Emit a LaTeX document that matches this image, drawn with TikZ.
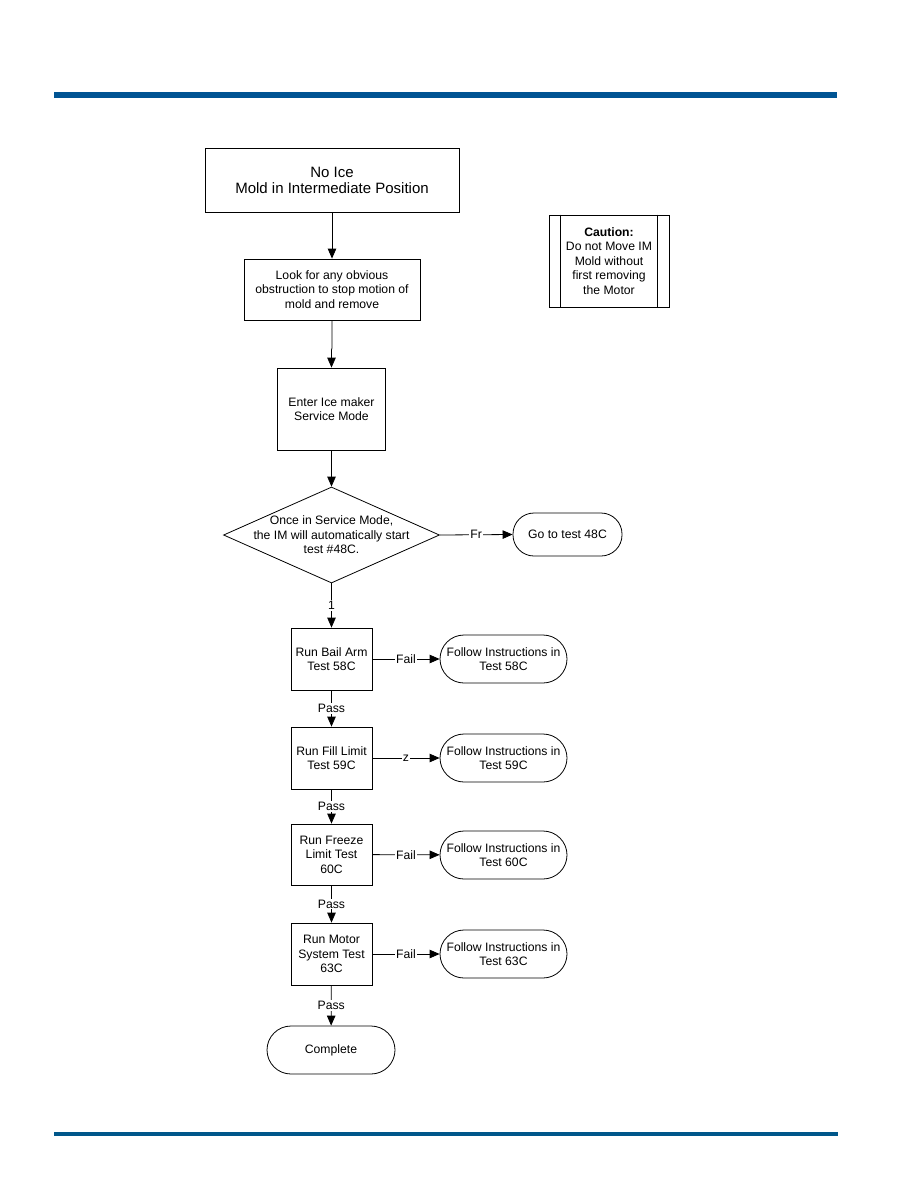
\documentclass[tikz,border=0pt]{standalone}
\usepackage{fontspec}
\setmainfont{Liberation Sans}
\usetikzlibrary{shapes.geometric,arrows.meta}
\definecolor{barblue}{RGB}{0,84,147}
\definecolor{barblue2}{RGB}{0,87,138}
\tikzset{
  box/.style={draw, line width=0.8pt, inner sep=0pt, align=center, font=\fontsize{12.2}{14.5}\selectfont},
  term/.style={draw, line width=0.8pt, inner sep=0pt, rounded corners=24pt, align=center, font=\fontsize{12.2}{14.5}\selectfont},
  conn/.style={line width=0.8pt, -{Triangle[length=10pt,width=8.5pt]}},
  lbl/.style={fill=white, inner sep=1pt, font=\fontsize{12.2}{14}\selectfont}
}
\begin{document}
\begin{tikzpicture}[x=1pt,y=-1pt]
\useasboundingbox (0,0) rectangle (918,1188);
\fill[barblue] (54,92) rectangle (837,98);
\fill[barblue2] (54,1132) rectangle (838,1136);

\node[box, minimum width=254pt, minimum height=64pt, font=\fontsize{15}{16}\selectfont] (b1) at (332,180) {No Ice\\Mold in Intermediate Position};
\node[box, minimum width=176pt, minimum height=61pt] (b2) at (332,289.5) {Look for any obvious\\obstruction to stop motion of\\mold and remove};
\node[box, minimum width=108pt, minimum height=82pt] (b3) at (331.5,409) {Enter Ice maker\\Service Mode};
\node[diamond, draw, line width=0.8pt, inner sep=0pt, minimum width=216pt, minimum height=96pt] (d) at (331.5,535) {};
\node[align=center, font=\fontsize{12.2}{14.5}\selectfont] (dt) at (331.5,535) {Once in Service Mode,\\the IM will automatically start\\test \#48C.};
\node[term, minimum width=109pt, minimum height=43pt, rounded corners=21pt] (g) at (567.5,534.5) {Go to test 48C};

\node[box, minimum width=81pt, minimum height=62pt] (r1) at (331.5,659) {Run Bail Arm\\Test 58C};
\node[box, minimum width=81pt, minimum height=62pt] (r2) at (331.5,758) {Run Fill Limit\\Test 59C};
\node[box, minimum width=81pt, minimum height=61pt] (r3) at (331.5,854.5) {Run Freeze\\Limit Test\\60C};
\node[box, minimum width=81pt, minimum height=62pt] (r4) at (331.5,954) {Run Motor\\System Test\\63C};

\node[term, minimum width=127pt, minimum height=48pt] (f1) at (503.5,659) {Follow Instructions in\\Test 58C};
\node[term, minimum width=127pt, minimum height=48pt] (f2) at (503.5,758) {Follow Instructions in\\Test 59C};
\node[term, minimum width=127pt, minimum height=48pt] (f3) at (503.5,855) {Follow Instructions in\\Test 60C};
\node[term, minimum width=127pt, minimum height=48pt] (f4) at (503.5,954) {Follow Instructions in\\Test 63C};
\node[term, minimum width=128pt, minimum height=48pt] (c) at (331,1050) {Complete};

\node[box, minimum width=120pt, minimum height=92pt] (cau) at (609,261) {\textbf{Caution:}\\Do not Move IM\\Mold without\\first removing\\the Motor};
\draw[line width=0.8pt] ([xshift=12pt]cau.north west) -- ([xshift=12pt]cau.south west);
\draw[line width=0.8pt] ([xshift=-12pt]cau.north east) -- ([xshift=-12pt]cau.south east);

\coordinate (j1) at (332,348);
\coordinate (j2) at (331.5,350);
\draw[conn] (b1) -- (b2);
\draw[conn] (b2.south) -- (j1) -- (j2) -- (b3.north);
\draw[conn] (b3.south) -- (d.north);
\draw[conn] (d.east) -- node[lbl]{Fr} (g.west);
\draw[conn] (d.south) -- node[lbl]{1} (r1.north);
\draw[conn] (r1) -- node[lbl]{Fail} (f1);
\draw[conn] (r2) -- node[lbl]{z} (f2);
\draw[conn] (r3) -- node[lbl]{Fail} (f3);
\draw[conn] (r4) -- node[lbl]{Fail} (f4);
\draw[conn] (r1) -- node[lbl]{Pass} (r2);
\draw[conn] (r2) -- node[lbl]{Pass} (r3);
\draw[conn] (r3) -- node[lbl]{Pass} (r4);
\draw[conn] (r4) -- node[lbl]{Pass} (c);
\end{tikzpicture}
\end{document}
